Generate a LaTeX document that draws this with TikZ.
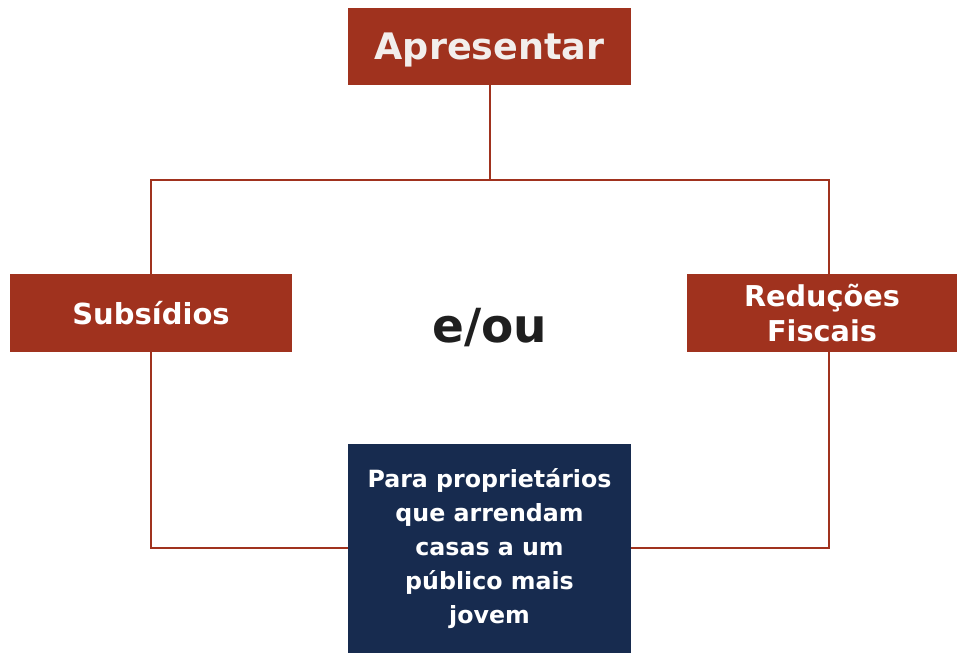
\documentclass[tikz,border=0pt]{standalone}
\usepackage{fontspec}
\setmainfont{DejaVu Sans}
\definecolor{rust}{HTML}{A0321E}
\definecolor{navy}{HTML}{172B4F}
\definecolor{offwhite}{HTML}{F2EEEC}
\begin{document}
\begin{tikzpicture}[x=1pt,y=-1pt,
  redbox/.style={fill=rust,draw=none,text=white,font=\bfseries,align=center,inner sep=0pt},
  bluebox/.style={fill=navy,draw=none,text=white,font=\bfseries,align=center,inner sep=0pt},
  link/.style={draw=rust,line width=2pt}]
\useasboundingbox (0,0) rectangle (957,653);
\path[fill=white] (0,0) rectangle (957,653);
\node[redbox,minimum width=283pt,minimum height=77pt,text=offwhite,text depth=0pt,font=\fontsize{36.5}{42}\selectfont\bfseries] (apr) at (489.5,46.5) {Apresentar};
\node[redbox,minimum width=282pt,minimum height=78pt,font=\fontsize{29}{35}\selectfont\bfseries] (sub) at (151,313) {Subsídios};
\node[redbox,minimum width=270pt,minimum height=78pt,font=\fontsize{28.7}{35}\selectfont\bfseries] (red) at (822,313) {Reduções\\Fiscais};
\node[bluebox,minimum width=283pt,minimum height=209pt,font=\fontsize{23.7}{34}\selectfont\bfseries] (pub) at (489.5,548.5) {Para proprietários\\que arrendam\\casas a um\\público mais\\jovem};
\node[font=\fontsize{47}{54}\selectfont\bfseries,text=black!88] (eou) at (490,328) {e/ou};
\coordinate (top) at (490,180);
\coordinate (tl) at (151,180);
\coordinate (tr) at (829,180);
\coordinate (bl) at (151,548);
\coordinate (br) at (829,548);
\draw[link] (apr.south -| top) -- (top);
\draw[link] (sub.north) -- (tl) -- (tr) -- (red.north -| tr);
\draw[link] (sub.south) -- (bl) -- (pub.west |- bl);
\draw[link] (red.south -| br) -- (br) -- (pub.east |- br);
\end{tikzpicture}
\end{document}
